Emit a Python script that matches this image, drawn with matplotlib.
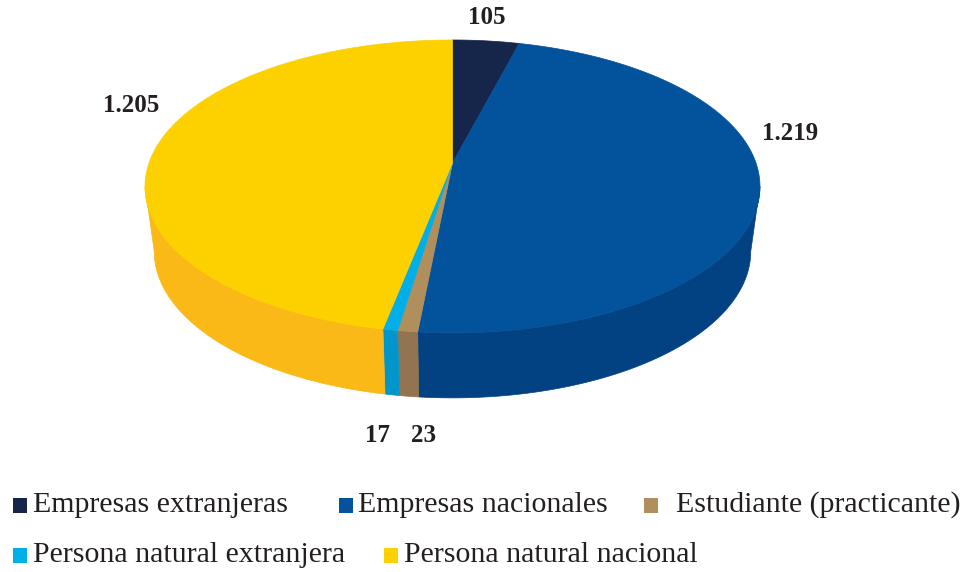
import numpy as np
import matplotlib
matplotlib.use('Agg')
import matplotlib.pyplot as plt
from matplotlib.patches import Polygon, Rectangle

# Data
categories = ['Empresas extranjeras', 'Empresas nacionales', 'Estudiante (practicante)',
              'Persona natural extranjera', 'Persona natural nacional']
values = [105, 1219, 23, 17, 1205]
value_labels = ['105', '1.219', '23', '17', '1.205']
top_colors = ['#16264a', '#03539c', '#b08f5c', '#00aee8', '#fdd000']
side_colors = ['#0f1c38', '#024283', '#927450', '#0096cc', '#fbb917']

# label positions (pixels) for each slice value
label_pos = [(487, 17), (790, 134), (424, 436), (378, 435), (131, 106)]

# pie geometry (pixel space, perspective-ish projection)
cx, cy = 452.5, 163.0
A, B, k = 303.5, 142.7, 0.16
depth = 65.0
shrink = 0.97


def proj(theta_deg):
    t = np.radians(theta_deg)
    u, v = np.sin(t), np.cos(t)
    s = 1.0 / (1.0 + k * v)
    return cx + A * u * s, cy - B * v * s


def proj_bottom(theta_deg):
    x, y = proj(theta_deg)
    return cx + (x - cx) * shrink, y + depth


fig = plt.figure(figsize=(9.7, 5.72), dpi=100)
ax = fig.add_axes([0, 0, 1, 1])
ax.set_xlim(0, 970)
ax.set_ylim(572, 0)
ax.axis('off')

total = float(sum(values))
bounds = np.concatenate([[0], np.cumsum(values) / total * 360.0])
vis_lo = np.degrees(np.arccos(-k))
vis_hi = 360 - vis_lo

# side walls
for i in range(len(values)):
    a0, a1 = max(bounds[i], vis_lo), min(bounds[i + 1], vis_hi)
    if a1 <= a0:
        continue
    th = np.linspace(a0, a1, 120)
    top = np.array([proj(t) for t in th])
    bot = np.array([proj_bottom(t) for t in th])[::-1]
    ax.add_patch(Polygon(np.vstack([top, bot]), closed=True, facecolor=side_colors[i],
                         edgecolor=side_colors[i], linewidth=0.5))

# top faces
for i in range(len(values)):
    th = np.linspace(bounds[i], bounds[i + 1], 300)
    pts = np.vstack([[cx, cy], np.array([proj(t) for t in th])])
    ax.add_patch(Polygon(pts, closed=True, facecolor=top_colors[i],
                         edgecolor=top_colors[i], linewidth=0.5))

# value labels
for (x, y), lab in zip(label_pos, value_labels):
    ax.text(x, y, lab, ha='center', va='center', fontsize=18, fontweight='bold',
            family='Liberation Serif', color='#231f20')

# legend
legend_pos = [(13, 505, 33), (339, 505, 358), (644, 505, 676), (13, 555, 33), (384, 555, 404)]
for (sx, sy, tx), cat, col in zip(legend_pos, categories, top_colors):
    ax.add_patch(Rectangle((sx, sy - 7), 14, 15, facecolor=col, edgecolor='none'))
    ax.text(tx, sy, cat, ha='left', va='center', fontsize=21.5,
            family='Liberation Serif', color='#231f20')

fig.savefig('out.png', dpi=100)
